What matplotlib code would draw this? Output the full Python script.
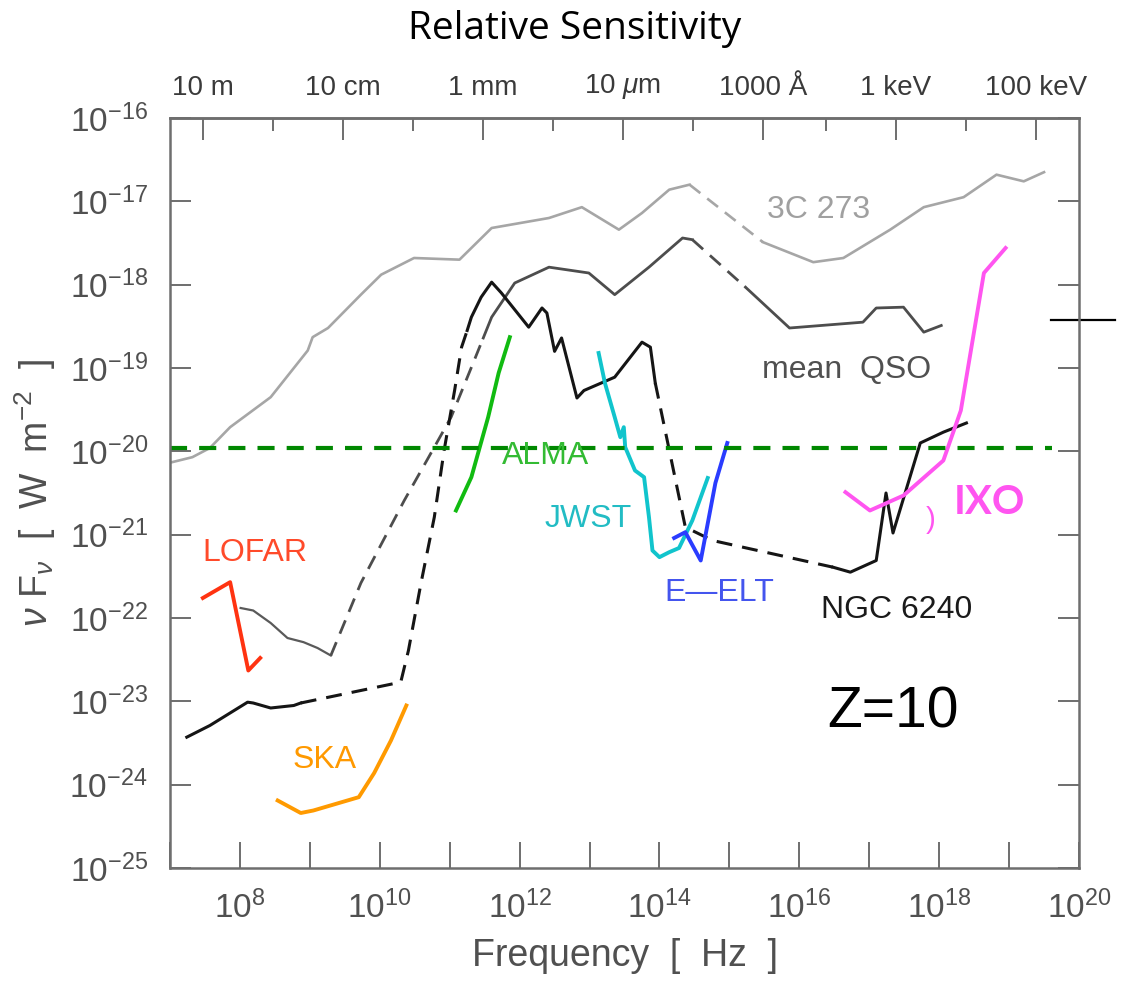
import numpy as np
import matplotlib
matplotlib.use('Agg')
import matplotlib.pyplot as plt
from matplotlib.ticker import FixedLocator, NullFormatter, FuncFormatter

plt.rcParams['font.family'] = ['Liberation Sans', 'DejaVu Sans']
plt.rcParams['mathtext.fontset'] = 'custom'
plt.rcParams['mathtext.rm'] = 'Liberation Sans'
plt.rcParams['mathtext.it'] = 'Liberation Sans:italic'

# all values are log10(frequency / Hz) and log10(nu F_nu / W m^-2)
c273_f1 = [7.03, 7.32, 7.57, 7.86, 8.44, 8.97, 9.04, 9.26, 9.73, 10.02, 10.49, 11.14,
           11.60, 12.42, 12.89, 13.42, 13.75, 14.14, 14.43]
c273_s1 = [-20.13, -20.07, -19.96, -19.71, -19.35, -18.79, -18.63, -18.52, -18.12, -17.88,
           -17.68, -17.70, -17.32, -17.20, -17.07, -17.34, -17.14, -16.86, -16.80]
c273_f2 = [15.48, 16.20, 16.63, 17.30, 17.78, 18.35, 18.82, 19.21, 19.50]
c273_s2 = [-17.49, -17.73, -17.68, -17.34, -17.07, -16.95, -16.68, -16.76, -16.65]

qso_f1 = [8.01, 8.19, 8.44, 8.68, 8.91, 9.11, 9.30]
qso_s1 = [-21.88, -21.91, -22.06, -22.24, -22.29, -22.36, -22.45]
qso_gap_f = [9.30, 9.73, 10.35, 10.78, 11.02, 11.35, 11.48]
qso_gap_s = [-22.45, -21.58, -20.59, -19.95, -19.59, -18.91, -18.64]
qso_f2 = [11.48, 11.60, 11.93, 12.42, 12.99, 13.36, 13.85, 14.33, 14.47]
qso_s2 = [-18.64, -18.39, -17.98, -17.79, -17.86, -18.12, -17.79, -17.44, -17.46]
qso_f3 = [15.23, 15.86, 16.91, 17.10, 17.49, 17.78, 18.03]
qso_s3 = [-18.03, -18.52, -18.45, -18.28, -18.27, -18.57, -18.49]

ngc_f1 = [7.24, 7.57, 8.11, 8.19, 8.44, 8.77, 8.87]
ngc_s1 = [-23.43, -23.29, -23.01, -23.02, -23.08, -23.05, -23.02]
ngc_gap1_f = [8.87, 10.30, 10.41, 10.59, 10.78, 10.92, 11.07, 11.17, 11.25]
ngc_gap1_s = [-23.02, -22.77, -22.39, -21.58, -20.79, -19.99, -19.27, -18.75, -18.55]
ngc_f2 = [11.25, 11.31, 11.45, 11.60, 11.74, 12.13, 12.32, 12.39, 12.50, 12.60, 12.82,
          12.92, 13.36, 13.75, 13.87, 13.94]
ngc_s2 = [-18.55, -18.39, -18.15, -17.97, -18.10, -18.51, -18.28, -18.34, -18.80, -18.64,
          -19.36, -19.27, -19.11, -18.69, -18.75, -19.18]
ngc_gap2_f = [13.94, 14.37, 14.76, 16.48]
ngc_gap2_s = [-19.18, -20.91, -21.07, -21.39]
ngc_f3 = [16.48, 16.73, 17.10, 17.24, 17.34, 17.73, 18.06, 18.39]
ngc_s3 = [-21.39, -21.45, -21.31, -20.50, -20.98, -19.90, -19.77, -19.66]

lofar_f = [7.47, 7.86, 8.12, 8.29]
lofar_s = [-21.76, -21.57, -22.63, -22.48]
ska_f = [8.54, 8.87, 9.05, 9.70, 9.92, 10.16, 10.38]
ska_s = [-24.19, -24.34, -24.31, -24.15, -23.86, -23.47, -23.05]
alma_f = [11.09, 11.31, 11.55, 11.70, 11.86]
alma_s = [-20.71, -20.31, -19.59, -19.06, -18.63]
jwst_f = [13.13, 13.22, 13.36, 13.44, 13.49, 13.51, 13.65, 13.78, 13.85, 13.90, 14.00,
          14.14, 14.28, 14.47, 14.69]
jwst_s = [-18.82, -19.18, -19.59, -19.83, -19.71, -19.95, -20.23, -20.31, -20.79, -21.19,
          -21.27, -21.21, -21.16, -20.83, -20.32]
eelt_f = [14.21, 14.37, 14.59, 14.80, 14.97]
eelt_s = [-21.04, -20.97, -21.31, -20.38, -19.90]
ixo_f = [16.66, 17.01, 17.49, 18.06, 18.31, 18.64, 18.95]
ixo_s = [-20.49, -20.71, -20.53, -20.11, -19.51, -17.86, -17.56]

z10_limit = -19.96
side_mark_f = [19.60, 20.52]
side_mark_s = -18.42

# top axis: wavelengths [m] and photon energies [eV]
top_major_lam = [10, 0.1, 1e-3, 1e-5, 1e-7]
top_major_ev = [1e3, 1e5]
top_major_labels = ['10 m', '10 cm', '1 mm', '10 $\\mu$m', '1000 Å', '1 keV', '100 keV']
top_minor_lam = [1, 1e-2, 1e-4, 1e-6]
top_minor_ev = [1e2, 1e4]

c_light = 2.998e8
h_ev = 4.1357e-15

fig = plt.figure(figsize=(11.34, 9.83), dpi=100)
ax = fig.add_axes([170 / 1134, 1 - 868 / 983, (1079 - 170) / 1134, 750 / 983])
ax.set_xscale('log')
ax.set_yscale('log')
ax.set_xlim(1e7, 1e20)
ax.set_ylim(1e-25, 1e-16)


def p(f, s):
    return 10 ** np.asarray(f, dtype=float), 10 ** np.asarray(s, dtype=float)


dash = (5.2, 3.3)
light = '#a6a6a6'
mid = '#4d4d4d'
dark = '#151515'

ax.plot(*p(c273_f1, c273_s1), color=light, lw=1.9)
ax.plot(*p([c273_f1[-1], c273_f2[0]], [c273_s1[-1], c273_s2[0]]), color=light, lw=1.9, dashes=dash)
ax.plot(*p(c273_f2, c273_s2), color=light, lw=1.9)

ax.plot(*p(qso_f1, qso_s1), color='#5a5a5a', lw=1.6)
ax.plot(*p(qso_gap_f, qso_gap_s), color=mid, lw=2.0, dashes=dash)
ax.plot(*p(qso_f2, qso_s2), color=mid, lw=2.0)
ax.plot(*p([qso_f2[-1], qso_f3[0]], [qso_s2[-1], qso_s3[0]]), color=mid, lw=2.0, dashes=dash)
ax.plot(*p(qso_f3, qso_s3), color=mid, lw=2.0)

ax.plot(*p(ngc_f1, ngc_s1), color=dark, lw=2.2)
ax.plot(*p(ngc_gap1_f, ngc_gap1_s), color=dark, lw=2.2, dashes=dash)
ax.plot(*p(ngc_f2, ngc_s2), color=dark, lw=2.2)
ax.plot(*p(ngc_gap2_f, ngc_gap2_s), color=dark, lw=2.2, dashes=dash)
ax.plot(*p(ngc_f3, ngc_s3), color=dark, lw=2.2)

ax.plot(*p(lofar_f, lofar_s), color='#ff3311', lw=2.8)
ax.plot(*p(ska_f, ska_s), color='#ff9a00', lw=2.8)
ax.plot(*p(alma_f, alma_s), color='#11bb11', lw=2.8)
ax.plot(*p(jwst_f, jwst_s), color='#11c4cc', lw=2.8)
ax.plot(*p(eelt_f, eelt_s), color='#2a3cff', lw=2.8)
ax.plot(*p(ixo_f, ixo_s), color='#ff55f0', lw=2.8)

ax.axhline(10 ** z10_limit, xmin=0, xmax=0.97, color='#008800', lw=3, dashes=(4.1, 2.9), clip_on=False)
ax.plot(*p(side_mark_f, [side_mark_s] * 2), color='black', lw=1.6, clip_on=False)

lab = dict(fontsize=23, ha='center', va='center')
ax.text(*p(16.28, -17.10), '3C 273', color='#a0a0a0', **lab)
ax.text(*p(16.68, -19.03), 'mean  QSO', color='#505050', **lab)
ax.text(*p(12.37, -20.06), 'ALMA', color='#33bb33', **lab)
ax.text(*p(12.98, -20.81), 'JWST', color='#22bcc4', **lab)
ax.text(*p(14.86, -21.70), 'E—ELT', color='#4455ee', **lab)
ax.text(*p(17.39, -21.91), 'NGC 6240', color='#1a1a1a', **lab)
ax.text(*p(8.21, -21.22), 'LOFAR', color='#ff4a2a', **lab)
ax.text(*p(9.21, -23.71), 'SKA', color='#ff9900', **lab)
ax.text(*p(17.34, -23.14), 'Z=10', color='black', fontsize=41, ha='center', va='center')
ax.text(*p(17.88, -20.83), ')', color='#ff55f0', fontsize=21, ha='center', va='center')
ax.text(*p(18.72, -20.62), 'IXO', color='#ff55f0', fontsize=29, fontweight='bold', ha='center',
        va='center', family=['Lato', 'DejaVu Sans'],
        bbox=dict(facecolor='white', edgecolor='none', pad=4), zorder=5)

spine_c = '#6e6e6e'
tick_c = '#505050'
for sp in ax.spines.values():
    sp.set_color(spine_c)
    sp.set_linewidth(1.8)

ax.xaxis.set_major_locator(FixedLocator([10.0 ** k for k in range(7, 21)]))
ax.xaxis.set_minor_locator(FixedLocator([]))
ax.xaxis.set_major_formatter(FuncFormatter(
    lambda v, _: r'$\mathregular{10^{%d}}$' % round(np.log10(v)) if round(np.log10(v)) % 2 == 0 else ''))
ax.yaxis.set_major_locator(FixedLocator([10.0 ** k for k in range(-25, -15)]))
ax.yaxis.set_minor_locator(FixedLocator([]))
ax.yaxis.set_major_formatter(FuncFormatter(lambda v, _: r'$\mathregular{10^{%d}}$' % round(np.log10(v))))

ax.tick_params(axis='x', which='major', direction='in', length=19, width=1.4, color=spine_c,
               labelsize=24, labelcolor=tick_c, pad=16)
ax.tick_params(axis='y', which='major', direction='in', length=15, width=1.4, color=spine_c,
               labelsize=24, labelcolor=tick_c, pad=16, right=True, labelright=False)

top = ax.secondary_xaxis('top')
top_major = [c_light / l for l in top_major_lam] + [e / h_ev for e in top_major_ev]
top_minor = [c_light / l for l in top_minor_lam] + [e / h_ev for e in top_minor_ev]
top.set_xticks(top_major, top_major_labels)
top.xaxis.set_minor_locator(FixedLocator(top_minor))
top.xaxis.set_minor_formatter(NullFormatter())
top.spines['top'].set_color(spine_c)
top.spines['top'].set_linewidth(1.8)
top.tick_params(which='major', direction='in', length=16, width=1.4, color=spine_c,
                labelsize=20, labelcolor='#3a3a3a', pad=12)
top.tick_params(which='minor', direction='in', length=9, width=1.4, color=spine_c)

ax.set_xlabel('Frequency  [  Hz  ]', fontsize=27, color=tick_c, va='top')
ax.xaxis.set_label_coords(0.5, -0.093)
ax.set_ylabel(r'$\nu$ F$_\nu$  [  W  m$^{-2}$  ]', fontsize=27, color=tick_c)
ax.yaxis.set_label_coords(-0.123, 0.5)

fig.text(575 / 1134, 1 - 39 / 983, 'Relative Sensitivity', family=['Open Sans', 'DejaVu Sans'],
         fontsize=28, ha='center', va='baseline', color='black')

fig.savefig('out.png', dpi=100)
